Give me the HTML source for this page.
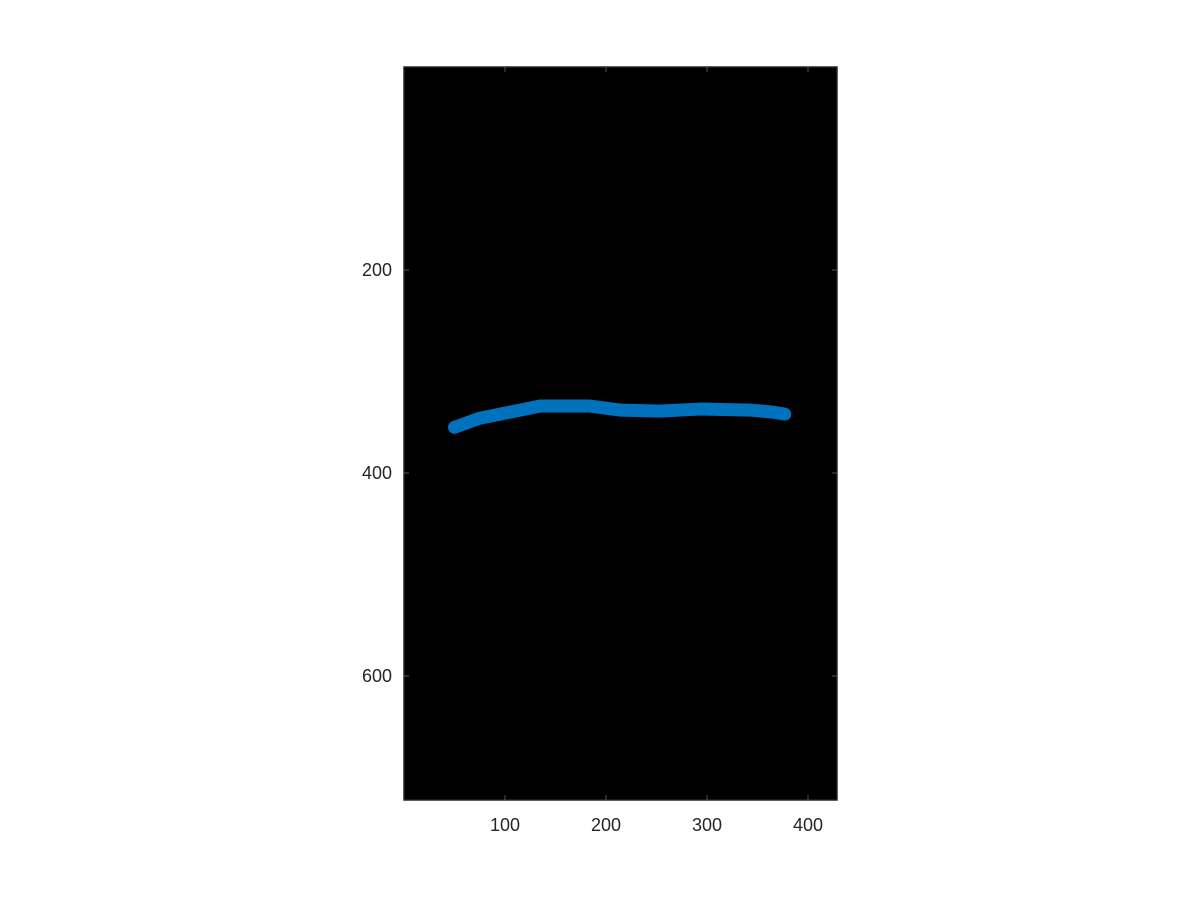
<!DOCTYPE html>
<html><head><meta charset="utf-8"><style>
body{margin:0;background:#fff;width:1200px;height:900px;overflow:hidden}
text{font-family:"Liberation Sans",sans-serif;font-size:18px;fill:#262626}
</style></head><body>
<svg id="chart" width="1200" height="900" xmlns="http://www.w3.org/2000/svg"></svg>
<script>
const xs = [50, 75, 105, 135, 160, 184, 214, 253, 293, 343, 365, 377];
const ys = [355, 346, 340, 334, 334, 334, 338, 339, 337, 338, 340, 342];
const xTicks = [100, 200, 300, 400];
const yTicks = [200, 400, 600];
const L=404,R=837,T=67,B=800;
const sx=v=>L+v*1.01;
const sy=v=>T+v*1.015;
const svg=document.getElementById('chart');
const NS='http://www.w3.org/2000/svg';
function mk(tag,attrs){const e=document.createElementNS(NS,tag);for(const k in attrs)e.setAttribute(k,attrs[k]);svg.appendChild(e);return e;}
const bg=mk('rect',{x:L,y:T,width:R-L,height:B-T,fill:'#000'});


const line=mk('polyline',{points:xs.map((v,i)=>sx(v)+','+sy(ys[i])).join(' '),fill:'none',stroke:'#0072bd','stroke-width':13,'stroke-linecap':'round','stroke-linejoin':'round'});


const frame=mk('rect',{x:L,y:T,width:R-L,height:B-T,fill:'none',stroke:'#262626','stroke-width':1.5});


xTicks.forEach(v=>{
  const x=sx(v);
  mk('line',{x1:x,x2:x,y1:B,y2:B-5,stroke:'#555'});
  mk('line',{x1:x,x2:x,y1:T,y2:T+5,stroke:'#555'});
  const t=mk('text',{x:x,y:B+31,'text-anchor':'middle'});t.textContent=v;
  
  
});
yTicks.forEach(v=>{
  const y=sy(v);
  mk('line',{x1:L,x2:L+5,y1:y,y2:y,stroke:'#555'});
  mk('line',{x1:R,x2:R-5,y1:y,y2:y,stroke:'#555'});
  const t=mk('text',{x:L-12,y:y+6,'text-anchor':'end'});t.textContent=v;
  
  
});
</script>
</body></html>
